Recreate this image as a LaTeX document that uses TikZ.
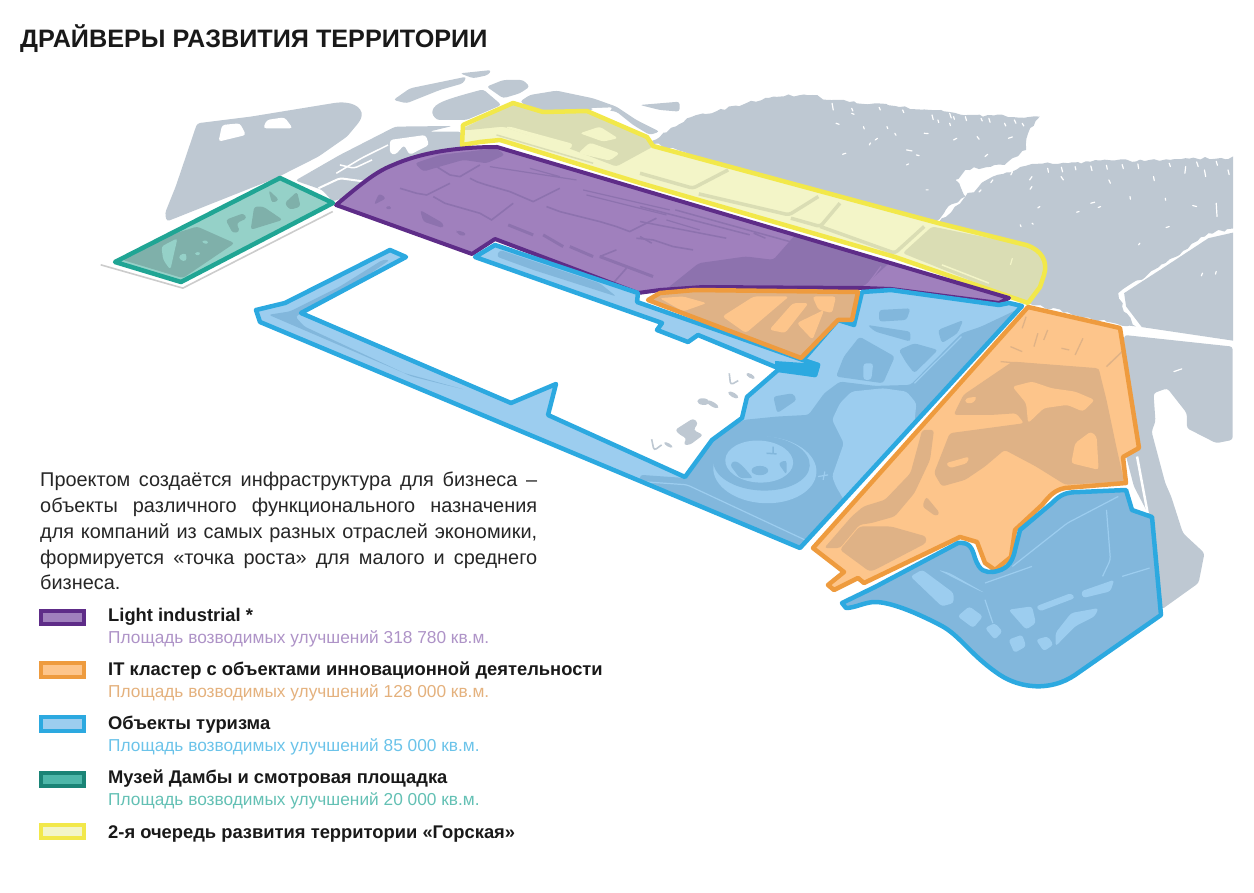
\documentclass[tikz,border=0pt]{standalone}
\usepackage{fontspec}
\setmainfont{Liberation Sans}
\usetikzlibrary{decorations.pathmorphing}
\definecolor{land}{HTML}{BEC8D2}
\definecolor{yellowline}{HTML}{F2E84A}
\definecolor{yellowfill}{HTML}{F3F5C8}
\definecolor{yellowdark}{HTML}{DADDB4}
\definecolor{purpleline}{HTML}{5E2C88}
\definecolor{purplefill}{HTML}{A080BD}
\definecolor{purpledark}{HTML}{8D72AE}
\definecolor{orangeline}{HTML}{EE9B3E}
\definecolor{orangefill}{HTML}{FDC58B}
\definecolor{orangedark}{HTML}{DFB286}
\definecolor{blueline}{HTML}{2CA9E0}
\definecolor{bluefill}{HTML}{9CCDEF}
\definecolor{bluedark}{HTML}{82B7DC}
\definecolor{tealline}{HTML}{20A594}
\definecolor{tealfill}{HTML}{95D1C8}
\definecolor{tealdark}{HTML}{7FB0AA}
\tikzset{
  mapa/.style={shift={(90,90)},x=0.357pt,y=-0.333pt,rounded corners=3pt},
  mapb/.style={shift={(640,90)},x=0.392pt,y=-0.333pt,rounded corners=3pt},
  mapc/.style={shift={(640,300)},x=0.392pt,y=-0.333pt,rounded corners=3pt},
  mapd/.style={shift={(360,70)},x=0.333pt,y=-0.333pt,rounded corners=3pt},
  mape/.style={shift={(640,350)},x=0.333pt,y=-0.333pt,rounded corners=3pt},
  mapf/.style={shift={(400,150)},x=0.333pt,y=-0.333pt,rounded corners=3pt},
  zone/.style={line width=4.5pt,line join=round},
  fleck/.style={white,line width=1.2pt,line cap=round},
  swatch/.style={minimum width=43pt,minimum height=13.5pt,line width=4pt,inner sep=0pt},
  headtext/.style={anchor=west,inner sep=0pt,text=black!90,font=\fontsize{18.35}{20}\selectfont\bfseries},
  subtext/.style={anchor=west,inner sep=0pt,font=\fontsize{17.3}{20}\selectfont},
}
\newcommand{\zoneyellow}{(462,145) -- (463,125) -- (513,103) -- (543,112) -- (587,111) -- (647,137) -- (653,146) -- (938,223) -- (1026,245)
  .. controls (1042,250) and (1048,262) .. (1044,275) -- (1040,287) -- (1028,303) -- (895,257) -- (640,183) -- (500,140) -- (480,142) -- cycle}
\newcommand{\zonepurple}{(336,205) .. controls (360,185) and (375,172) .. (393,165) .. controls (420,153) and (455,147) .. (497,147) -- (507,150)
  -- (1009,298) -- (999,303) -- (891,289) -- (863,288) -- (703,287) -- (660,290) -- (638,293) -- (495,239) -- (472,254) -- cycle}
\newcommand{\zoneblue}{(1022,306) -- (1009,303) -- (999,305) -- (891,290) -- (862,292) -- (854,325) -- (838,320) -- (803,360) -- (818,365) -- (815,375)
  -- (778,370) -- (747,397) -- (742,418) -- (712,440) -- (685,477) -- (548,415) -- (556,384) -- (511,403) -- (301,313) -- (406,257) -- (390,250)
  -- (285,303) -- (256,310) -- (260,322) -- (800,548) -- cycle}
\newcommand{\zonestrip}{(475,257) -- (495,245) -- (638,293) -- (637,302) -- (803,360) -- (818,365) -- (815,375) -- (778,368) -- (698,335) -- (688,342) -- (657,330) -- (662,323) -- cycle}
\newcommand{\zoneorange}{(648,300) -- (660,293) -- (695,290) -- (858,292) -- (852,320) -- (838,320) -- (801,358) -- cycle}
\newcommand{\zonebig}{(1028,307) -- (1120,328) -- (1139,448) -- (1123,457) -- (1126,483) -- (1065,488) .. controls (1055,490) and (1050,495) .. (1042,505)
  -- (1015,530) -- (1011,557) -- (995,570) -- (985,563) -- (977,542) -- (960,537) -- (864,583) -- (858,578) -- (834,590) -- (828,585) -- (844,572) -- (813,548) -- cycle}
\newcommand{\zonelow}{(1126,490) -- (1132,510) -- (1152,517) -- (1161,615) -- (1075,675) .. controls (1050,692) and (1020,688) .. (1000,675)
  .. controls (970,655) and (960,635) .. (940,625) .. controls (915,612) and (890,602) .. (875,602) .. controls (865,602) and (855,608) .. (846,608)
  -- (842,603) -- (875,587) -- (958,543) .. controls (970,542) and (972,548) .. (975,558) .. controls (980,572) and (985,572) .. (993,572)
  .. controls (1005,570) and (1012,565) .. (1015,550) -- (1020,530) -- (1052,503) .. controls (1060,495) and (1065,492) .. (1080,492) -- cycle}
\newcommand{\zoneteal}{(115,262) -- (280,178) -- (333,203) -- (181,282) -- cycle}
\begin{document}
\begin{tikzpicture}[x=1pt,y=-1pt]
  \path[use as bounding box] (0,0) rectangle (1254,893);

  % land
  \begin{scope}[mapa]
    \fill[land] (300,100) -- (450,80) -- (690,38) .. controls (745,35) and (770,60) .. (755,95) -- (720,140) -- (640,200) -- (520,265) -- (215,395) -- (210,370) -- (240,290) -- cycle;
    \fill[white] (360,155) -- (370,105) -- (420,100) -- (437,135) -- cycle;
    \fill[white] (485,115) -- (495,90) -- (545,82) -- (568,115) -- cycle;
    \fill[land] (575,272) -- (700,195) -- (855,110) -- (1015,108) -- (950,125) -- (1040,125) -- (1040,175) -- (880,215) -- (720,320) -- (680,335) -- (650,300) -- cycle;
    \fill[white] (840,150) -- (940,135) -- (950,165) -- (895,195) -- (880,165) -- (855,195) -- (840,190) -- cycle;
    \draw[white,line width=2pt] (640,295) -- (700,265) -- (770,275);
    \draw[white,line width=1.5pt] (690,250) -- (760,205) -- (835,165);
    \draw[white,line width=1.5pt] (700,225) -- (740,235) -- (790,210);
    \draw[black!20,line width=1.6pt,sharp corners] (30,525) -- (260,595) -- (680,365);
  \end{scope}
  \begin{scope}[mapd]
    \fill[land] (100,90) -- (150,55) -- (320,20) -- (310,40) -- (240,60) -- (140,100) -- cycle;
    \fill[land] (215,130) .. controls (225,100) and (250,90) .. (370,58) -- (425,105) -- (320,150) -- (230,150) -- cycle;
    \fill[land] (380,50) -- (430,30) -- (490,30) -- (510,50) -- (480,70) -- (430,85) -- cycle;
    \fill[land] (300,10) -- (395,0) -- (385,15) -- (340,25) -- cycle;
    \fill[land] (480,95) -- (510,75) -- (590,62) -- (700,85) -- (770,110) -- (830,150) -- (900,185) -- (870,195) -- (820,165) -- (770,125) -- (700,115) -- (680,130) -- (540,130) -- cycle;
    \fill[white] (690,115) -- (760,112) -- (740,135) -- cycle;
    \fill[land] (840,105) -- (960,95) -- (960,125) -- (900,120) -- cycle;
    \fill[land] (905,215) -- (960,175) -- (960,240) -- cycle;
  \end{scope}
  \begin{scope}
    \clip (640,60) rectangle (1233,360);
    \begin{scope}[mapb,sharp corners]
      \fill[land,decorate,decoration={random steps,segment length=5pt,amplitude=1.6pt}] (25,155) -- (120,85) -- (270,40) -- (340,20) -- (440,15) -- (480,30) -- (600,40) -- (740,60) -- (850,75) -- (1020,80) -- (990,130) -- (985,180) -- (930,225) -- (830,240) -- (805,270) -- (830,320) -- (780,360) -- (750,400) -- (400,300) -- cycle;
      \fill[land,decorate,decoration={random steps,segment length=5pt,amplitude=1.6pt}] (760,400) -- (830,320) -- (900,260) -- (1000,222) -- (1150,215) -- (1300,210) -- (1600,200) -- (1600,395) -- (1450,430) -- (1340,520) -- (1220,610) -- (1230,650) -- (1265,710) -- (1230,708) -- (990,640) -- (940,500) -- cycle;
      \fill[land] (1600,405) -- (1450,445) -- (1340,530) -- (1235,610) -- (1240,650) -- (1280,712) -- (1600,768) -- cycle;
      \draw[fleck] (500,100) -- ++(8,3) (600,150) -- ++(6,-5) (585,165) -- ++(3,-6) (650,130) -- ++(3,6) (725,130) -- ++(10,1) (680,180) -- ++(14,3)
        (800,150) -- ++(8,-5) (860,140) -- ++(5,8) (940,145) -- ++(10,-4) (880,200) -- ++(7,-7) (830,260) -- ++(6,-10) (525,190) -- ++(-8,3) (705,195) -- ++(7,2)
        (680,225) -- ++(5,-3) (730,300) -- ++(5,0) (570,110) -- ++(2,7) (630,110) -- ++(2,6) (790,100) -- ++(2,7) (760,90) -- ++(2,8) (800,80) -- ++(2,8)
        (870,85) -- ++(3,8) (930,100) -- ++(3,8) (975,100) -- ++(4,8) (490,40) -- ++(3,20) (540,70) -- ++(6,3) (1000,290) -- ++(-5,8) (1020,350) -- ++(-5,4)
        (970,405) -- ++(2,5) (1000,400) -- ++(3,3) (1150,340) -- ++(10,-3) (1175,350) -- ++(-6,3) (1250,320) -- ++(1,8) (1340,325) -- ++(1,6) (1420,350) -- ++(-10,-3)
        (1470,340) -- ++(2,40) (1350,410) -- ++(-8,3) (1275,460) -- ++(-3,5) (1120,365) -- ++(-6,2) (1330,535) -- ++(-6,4) (1435,550) -- ++(-3,8) (1470,545) -- ++(-2,8)
        (1390,250) -- ++(2,-20) (1310,260) -- ++(2,12) (1200,280) -- ++(-4,-10) (1080,270) -- ++(-6,-10) (1000,260) -- ++(-6,10) (1440,240) -- ++(3,20)
        (1040,235) -- ++(2,12) (1075,232) -- ++(3,14) (1110,230) -- ++(2,10) (1150,228) -- ++(3,14) (1190,226) -- ++(2,12) (1230,224) -- ++(3,12) (1270,222) -- ++(2,14)
        (1350,220) -- ++(3,10) (1420,216) -- ++(4,14) (1470,214) -- ++(3,12) (1500,240) -- ++(3,14) (900,270) -- ++(-5,8) (950,245) -- ++(-4,10) (870,300) -- ++(-5,6)
        (540,55) -- ++(3,8) (610,52) -- ++(3,8) (670,60) -- ++(3,8) (745,75) -- ++(3,14) (790,70) -- ++(4,14) (830,80) -- ++(3,12) (890,85) -- ++(3,12) (955,90) -- ++(4,10);
    \end{scope}
  \end{scope}
  \begin{scope}[mapc]
    \fill[land] (1235,105) -- (1512,140) -- (1512,420) -- (1470,430) -- (1395,385) -- (1395,340) -- (1345,265) -- (1310,280) -- (1315,365) -- (1305,395) -- (1340,550) -- (1355,590) -- (1385,700) -- (1440,760) -- (1425,850) -- (1330,930) -- (1300,650) -- (1260,560) -- (1240,470) -- cycle;
    \draw[white,line width=2.5pt] (1268,470) -- (1295,640);
    \draw[fleck] (1362,215) -- ++(20,-8);
  \end{scope}
  \begin{scope}[mape]
    \fill[land] (105,240) -- (160,205) -- (175,220) -- (160,240) -- (190,255) -- (150,285) -- (130,285) -- (140,265) -- (120,255) -- cycle;
    \fill[land,rotate around={-5:(190,155)}] (190,155) ellipse (18 and 10);
    \fill[land,rotate around={-30:(218,163)}] (218,163) ellipse (20 and 7);
    \fill[land,rotate around={-30:(280,135)}] (280,135) ellipse (17 and 7);
    \fill[land,rotate around={-30:(332,78)}] (332,78) ellipse (14 and 6);
    \fill[land,rotate around={-30:(85,285)}] (85,285) ellipse (14 and 5);
    \draw[land,line width=1.6pt] (268,70) -- (272,105) -- (295,92) (35,268) -- (42,302) -- (65,285);
  \end{scope}

  % 2nd stage
  \begin{scope}
    \clip \zoneyellow;
    \fill[yellowfill] (400,60) rectangle (1100,320);
    \begin{scope}[mapd]
      \fill[yellowdark] (300,180) -- (460,100) -- (550,125) -- (680,122) -- (860,200) -- (880,230) -- (770,290) -- (640,240) -- (430,170) -- (330,180) -- cycle;
      \fill[yellowfill] (660,190) -- (720,170) -- (775,205) -- (730,215) -- cycle;
      \fill[yellowfill] (655,250) -- (690,218) -- (780,250) -- (750,272) -- cycle;
      \fill[yellowfill] (435,172) -- (450,170) -- (640,222) -- (630,240) -- cycle;
      \draw[yellowdark,line width=1.5pt] (410,195) -- (700,280);
    \end{scope}
    \begin{scope}[mapb]
      \fill[yellowdark] (670,490) -- (745,410) -- (1040,480) -- (1040,660) -- (985,640) -- cycle;
      \draw[yellowdark,line width=3.5pt] (0,250) -- (135,295) -- (225,240) (150,312) -- (380,375) -- (455,320) (385,385) -- (460,410) -- (510,340) (460,410) -- (650,490) -- (725,410);
      \draw[yellowfill,line width=1.5pt] (770,525) -- (890,580);
      \draw[yellowfill,line width=1.2pt] (950,505) -- (945,525);
    \end{scope}
  \end{scope}
  \draw[zone,draw=yellowline] \zoneyellow;

  % light industrial
  \begin{scope}
    \clip \zonepurple;
    \fill[purplefill] (330,140) rectangle (1020,310);
    \begin{scope}[mapd]
      \fill[purpledark] (165,280) -- (240,255) -- (410,235) -- (435,255) -- (380,280) -- (310,270) -- (240,290) -- (190,305) -- cycle;
    \end{scope}
    \begin{scope}[mapb]
      \fill[purpledark] (65,600) -- (160,585) -- (570,590) -- (640,515) -- (470,465) -- (400,430) -- (340,510) -- (270,500) -- (150,520) -- cycle;
      \draw[purplefill,line width=1.2pt] (570,600) -- (615,530);
      \draw[purpledark,line width=1.5pt] (0,395) -- (220,445) (0,350) -- (280,435) (90,360) -- (550,510) (290,430) -- (320,445) (0,440) -- (30,460);
    \end{scope}
    \begin{scope}[mapf]
      \fill[purpledark] (60,180) -- (130,220) -- (130,235) -- (70,215) -- cycle;
      \fill[purpledark] (170,240) -- (200,250) -- (190,260) -- (170,250) -- cycle;
      \draw[purpledark,line width=1.6pt,sharp corners] (110,50) -- (150,75) -- (180,80) -- (240,45)
        (210,85) -- (230,95) -- (260,105) -- (295,115) -- (330,125) -- (365,140) -- (400,155) -- (480,115)
        (100,140) -- (135,160) -- (170,170) -- (205,180) -- (240,190) -- (275,210) -- (340,160)
        (0,115) -- (50,130) -- (80,135) -- (150,100)
        (440,170) -- (480,185) -- (520,195) -- (560,205) -- (600,215) -- (650,230) -- (690,245) -- (770,205)
        (710,265) -- (760,270) -- (820,290) -- (880,300)
        (600,320) -- (650,300) (640,400) -- (680,355);
      \draw[purpledark,line width=3pt] (325,225) -- (400,255) (430,255) -- (490,290) (510,290) -- (580,320) (600,320) -- (680,350) -- (760,380);
      \draw[purpledark,line width=1.2pt] (270,50) -- (530,90) (390,55) -- (480,80) (550,120) -- (810,180) (560,135) -- (800,195) (800,210) -- (900,240);
    \end{scope}
    \begin{scope}[mapa]
      \fill[purpledark] (795,345) -- (810,310) -- (830,325) -- cycle;
      \fill[purpledark] (825,355) -- (840,345) -- (845,360) -- cycle;
    \end{scope}
  \end{scope}
  \draw[zone,line width=4pt,draw=purpleline] \zonepurple;

  % tourism, upper part
  \begin{scope}
    \clip \zoneblue;
    \fill[bluefill] (240,240) rectangle (1040,560);
    \begin{scope}[mapa]
      \fill[bluedark] (500,675) -- (560,665) -- (700,590) -- (820,510) -- (840,510) -- (720,600) -- (575,680) -- (600,710) -- (900,860) -- (1050,900) -- (880,850) -- cycle;
    \end{scope}
    \begin{scope}[mapc]
      \fill[bluedark] (0,525) -- (120,535) -- (190,415) -- (265,360) -- (350,350) -- (430,345) -- (470,280) -- (510,245) -- (600,258) -- (690,255) -- (820,100) -- (870,80) -- (960,30) -- (980,30) -- (700,360) -- (420,760) -- (0,570) -- cycle;
      \fill[bluefill] (510,310) -- (540,275) -- (620,265) -- (680,275) -- (705,310) -- (700,370) -- (640,460) -- (590,530) -- (520,600) -- (500,560) -- (490,530) -- (520,430) -- (490,360) -- cycle;
      \fill[bluedark] (610,30) -- (690,25) -- (680,60) -- (610,65) -- cycle;
      \fill[bluedark] (580,75) -- (690,95) -- (690,125) -- (600,95) -- cycle;
      \fill[bluedark] (520,170) -- (560,110) -- (650,170) -- (620,250) -- (500,230) -- cycle;
      \fill[bluefill] (570,190) -- (595,190) -- (590,240) -- (570,240) -- cycle;
      \fill[bluedark] (660,150) -- (700,130) -- (760,150) -- (700,220) -- (680,190) -- cycle;
      \fill[bluedark] (760,90) -- (825,60) -- (810,100) -- (770,130) -- cycle;
      \fill[bluedark] (340,290) -- (390,280) -- (400,300) -- (350,340) -- cycle;
      \draw[bluefill,line width=1.2pt] (700,250) -- (820,110);
      \draw[bluefill,line width=1.2pt] (0,545) -- (120,555) -- (420,720);
    \end{scope}
    \begin{scope}[mape]
      \fill[bluefill,rotate around={-3:(375,360)}] (375,360) ellipse (155 and 100);
      \fill[bluedark,rotate around={-3:(365,340)}] (365,340) ellipse (145 and 82);
      \fill[bluefill,rotate around={-3:(358,335)}] (358,335) ellipse (102 and 63);
      \fill[bluedark] (270,345) .. controls (290,325) and (310,350) .. (340,385) -- (300,385) -- cycle;
      \fill[bluedark] (360,362) ellipse (25 and 14);
      \fill[bluedark] (415,340) -- (440,330) -- (440,375) -- cycle;
      \draw[bluedark,line width=1.5pt] (380,310) -- (410,312) (400,290) -- (400,312);
      \draw[bluefill,line width=1.2pt] (535,380) -- (565,375) (550,390) -- (555,365);
    \end{scope}
  \end{scope}
  \draw[zone,draw=blueline] \zoneblue;
  \begin{scope}
    \clip \zonestrip;
    \fill[bluefill] (470,240) rectangle (830,380);
    \begin{scope}[mapf]
      \fill[bluedark] (290,320) -- (400,360) -- (650,440) -- (600,400) -- (300,300) -- cycle;
    \end{scope}
  \end{scope}
  \draw[zone,draw=blueline] \zonestrip;
  \fill[blueline] (775,361) -- (818,364) -- (815,376) -- (775,369) -- cycle;

  % IT cluster
  \begin{scope}
    \clip \zoneorange;
    \fill[orangedark] (640,285) rectangle (865,365);
    \begin{scope}[mapb]
      \fill[orangefill] (210,680) -- (290,620) -- (380,620) -- (270,730) -- cycle;
      \fill[orangefill] (330,720) -- (390,640) -- (430,640) -- (370,730) -- cycle;
      \fill[orangefill] (400,700) -- (470,660) -- (440,750) -- cycle;
      \fill[orangefill] (440,620) -- (500,620) -- (490,670) -- (455,660) -- cycle;
      \fill[orangefill] (50,625) -- (110,620) -- (170,640) -- (110,665) -- cycle;
    \end{scope}
  \end{scope}
  \draw[zone,draw=orangeline] \zoneorange;
  \begin{scope}
    \clip \zonebig;
    \fill[orangefill] (800,300) rectangle (1150,600);
    \begin{scope}[mapc]
      \fill[orangedark] (800,345) -- (825,285) -- (950,185) -- (1170,205) -- (1190,300) -- (1215,440) -- (1235,545) -- (1085,555) -- (1010,500) -- (930,450) -- (880,500) -- (830,540) -- (770,560) -- (750,520) -- (790,400) -- (980,370) -- (960,340) -- (900,345) -- cycle;
      \fill[orangefill] (950,260) -- (1000,245) -- (1050,265) -- (1110,275) -- (1160,300) -- (1130,335) -- (1090,315) -- (1030,325) -- (990,370) -- (985,310) -- cycle;
      \fill[orangefill] (1110,430) -- (1150,395) -- (1165,410) -- (1170,510) -- (1100,490) -- cycle;
      \fill[orangefill] (830,295) -- (860,290) -- (850,310) -- (830,310) -- cycle;
      \fill[orangefill] (780,490) -- (840,470) -- (835,490) -- (790,505) -- cycle;
      \fill[orangedark] (510,750) -- (560,680) -- (640,680) -- (730,710) -- (730,730) -- (600,810) -- (585,815) -- cycle;
      \fill[orangedark] (470,745) -- (540,650) -- (570,620) -- (625,600) -- (690,520) -- (720,390) -- (750,390) -- (740,480) -- (700,580) -- (650,650) -- (590,670) -- (560,675) -- (510,745) -- cycle;
      \fill[orangedark] (730,590) -- (765,640) -- (755,650) -- (720,620) -- cycle;
      \draw[orangedark,line width=1.3pt] (985,50) -- (975,85) (1015,100) -- (1005,140) (1040,90) -- (1030,120) (945,140) -- (975,155) (1075,145) -- (1095,150) (1130,115) -- (1110,165) (920,185) -- (1170,210);
      \draw[orangedark,line width=1.5pt] (1190,200) -- (1230,155);
    \end{scope}
  \end{scope}
  \draw[zone,draw=orangeline] \zonebig;

  % tourism, lower part
  \begin{scope}
    \clip \zonelow;
    \fill[bluedark] (830,480) rectangle (1170,700);
    \begin{scope}[mapc]
      \fill[bluefill] (810,950) -- (840,920) -- (875,950) -- (850,985) -- cycle;
      \fill[bluefill] (880,985) -- (905,970) -- (925,995) -- (905,1020) -- cycle;
      \fill[bluefill] (940,1020) -- (975,1005) -- (985,1040) -- (955,1060) -- cycle;
      \fill[bluefill] (1010,1020) -- (1040,1010) -- (1055,1035) -- (1030,1055) -- cycle;
      \fill[bluefill] (690,830) -- (720,810) -- (800,880) -- (800,910) -- (770,920) -- cycle;
      \fill[bluefill] (940,930) -- (1000,920) -- (1010,970) -- (985,990) -- cycle;
      \fill[bluefill] (1010,920) -- (1100,880) -- (1110,895) -- (1020,935) -- cycle;
      \fill[bluefill] (1125,875) -- (1210,840) -- (1200,875) -- (1130,895) -- cycle;
      \fill[bluefill] (1060,1000) -- (1100,940) -- (1170,925) -- (1160,950) -- (1110,980) -- (1060,1040) -- cycle;
      \fill[bluefill] (760,810) -- (790,820) -- (880,880) -- (860,870) -- cycle;
      \draw[bluefill,line width=1.2pt] (1190,630) -- (1200,780) -- (1180,830) (950,800) -- (1090,670) -- (1220,590) (880,850) -- (1000,800)
        (1230,830) -- (1300,805) (880,900) -- (900,970);
    \end{scope}
  \end{scope}
  \draw[zone,draw=blueline] \zonelow;

  % museum
  \begin{scope}
    \clip \zoneteal;
    \fill[tealfill] (110,170) rectangle (340,290);
    \begin{scope}[mapa]
      \fill[tealdark] (90,510) -- (240,430) -- (300,410) -- (405,460) -- (260,565) -- cycle;
      \fill[tealfill] (200,470) -- (245,445) -- (225,540) -- (205,510) -- cycle;
      \fill[tealfill] (250,495) -- (270,490) -- (270,515) -- (250,510) -- cycle;
      \fill[tealfill] (290,490) -- (310,485) -- (305,500) -- cycle;
      \fill[tealfill] (310,455) -- (330,450) -- (330,465) -- cycle;
      \fill[tealdark] (500,300) -- (530,330) -- (510,340) -- cycle;
      \fill[tealdark] (545,340) -- (580,305) -- (590,350) -- (560,360) -- cycle;
      \fill[tealdark] (380,390) -- (430,370) -- (440,385) -- (410,400) -- (420,425) -- (400,430) -- cycle;
      \fill[tealdark] (460,350) -- (485,350) -- (540,390) -- (450,420) -- cycle;
    \end{scope}
  \end{scope}
  \draw[zone,draw=tealline] \zoneteal;

  % title and text
  \node[anchor=west,inner sep=0pt,text=black!90,font=\fontsize{25.2}{28}\selectfont\bfseries] (title) at (20,39) {ДРАЙВЕРЫ РАЗВИТИЯ ТЕРРИТОРИИ};
  \node[anchor=north west,inner sep=0pt,text width=497pt,text=black!85,font=\fontsize{19.9}{25.8}\selectfont] (intro) at (40,472) {%
    \spaceskip=.28em plus 1fil
    \hbox to 497pt{Проектом создаётся инфраструктура для бизнеса –}\par
    \hbox to 497pt{объекты различного функционального назначения}\par
    \hbox to 497pt{для компаний из самых разных отраслей экономики,}\par
    \hbox to 497pt{формируется «точка роста» для малого и среднего}\par
    бизнеса.};

  % legend
  \node[swatch,draw=purpleline,fill=purplefill] (swpurple) at (62.5,617.5) {};
  \node[headtext] (headpurple) at (108,617) {Light industrial *};
  \node[subtext,text=purplefill!85] (subpurple) at (108,639) {Площадь возводимых улучшений 318 780 кв.м.};

  \node[swatch,draw=orangeline,fill=orangefill] (sworange) at (62.5,670) {};
  \node[headtext] (headorange) at (108,671) {IT кластер с объектами инновационной деятельности};
  \node[subtext,text=orangefill!90!black] (suborange) at (108,693) {Площадь возводимых улучшений 128 000 кв.м.};

  \node[swatch,draw=blueline,fill=bluefill] (swblue) at (62.5,724) {};
  \node[headtext] (headblue) at (108,725) {Объекты туризма};
  \node[subtext,text=blueline!70] (subblue) at (108,747) {Площадь возводимых улучшений 85 000 кв.м.};

  \node[swatch,draw=tealline!80!black,fill=tealline!80] (swteal) at (62.5,779.5) {};
  \node[headtext] (headteal) at (108,779) {Музей Дамбы и смотровая площадка};
  \node[subtext,text=tealline!70] (subteal) at (108,801) {Площадь возводимых улучшений 20 000 кв.м.};

  \node[swatch,draw=yellowline,fill=yellowfill] (swyellow) at (62.5,831.5) {};
  \node[headtext] (headyellow) at (108,834) {2-я очередь развития территории «Горская»};
\end{tikzpicture}
\end{document}
